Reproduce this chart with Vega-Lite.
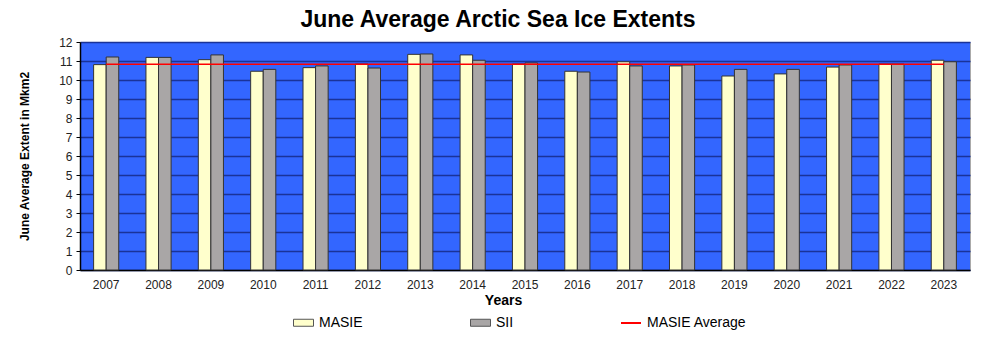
{
  "$schema": "https://vega.github.io/schema/vega-lite/v6.json",
  "autosize": "none",
  "width": 890,
  "height": 228,
  "padding": {"left": 80, "top": 42, "right": 29, "bottom": 81},
  "background": "white",
  "title": {"text": "June Average Arctic Sea Ice Extents", "fontSize": 23, "font": "Liberation Sans", "fontWeight": "bold", "color": "#000000", "anchor": "middle", "dx": -27, "offset": 4},
  "config": {
    "font": "Liberation Sans",
    "view": {"fill": "#3366FF", "stroke": "#aaaaaa", "strokeWidth": 1}
  },
  "data": {"values": [
    {"year": "2007", "MASIE": 10.81, "SII": 11.21, "avg": 10.83},
    {"year": "2008", "MASIE": 11.19, "SII": 11.19, "avg": 10.83},
    {"year": "2009", "MASIE": 11.07, "SII": 11.32, "avg": 10.83},
    {"year": "2010", "MASIE": 10.46, "SII": 10.56, "avg": 10.83},
    {"year": "2011", "MASIE": 10.65, "SII": 10.74, "avg": 10.83},
    {"year": "2012", "MASIE": 10.84, "SII": 10.63, "avg": 10.83},
    {"year": "2013", "MASIE": 11.35, "SII": 11.37, "avg": 10.83},
    {"year": "2014", "MASIE": 11.32, "SII": 11.04, "avg": 10.83},
    {"year": "2015", "MASIE": 10.84, "SII": 10.9, "avg": 10.83},
    {"year": "2016", "MASIE": 10.46, "SII": 10.42, "avg": 10.83},
    {"year": "2017", "MASIE": 10.96, "SII": 10.74, "avg": 10.83},
    {"year": "2018", "MASIE": 10.74, "SII": 10.79, "avg": 10.83},
    {"year": "2019", "MASIE": 10.21, "SII": 10.56, "avg": 10.83},
    {"year": "2020", "MASIE": 10.32, "SII": 10.56, "avg": 10.83},
    {"year": "2021", "MASIE": 10.68, "SII": 10.79, "avg": 10.83},
    {"year": "2022", "MASIE": 10.84, "SII": 10.84, "avg": 10.83},
    {"year": "2023", "MASIE": 11.04, "SII": 10.96, "avg": 10.83}
  ]},
  "layer": [
    {
      "transform": [{"fold": ["MASIE", "SII"], "as": ["series", "value"]}],
      "mark": {"type": "bar", "stroke": "#333333", "strokeWidth": 1},
      "encoding": {
        "x": {
          "field": "year", "type": "ordinal",
          "scale": {"paddingInner": 0.52, "paddingOuter": 0.26},
          "axis": {"labelAngle": 0, "ticks": false, "domainColor": "#000000", "domainWidth": 1.5, "grid": false, "labelFontSize": 12, "labelColor": "#222222", "labelPadding": 9, "title": "Years", "titleFontSize": 14, "titleFontWeight": "bold", "titleColor": "#000000", "titlePadding": 3, "titleX": 423}
        },
        "xOffset": {"field": "series", "sort": ["MASIE", "SII"]},
        "y": {
          "field": "value", "type": "quantitative",
          "scale": {"domain": [0, 12], "nice": false},
          "axis": {"values": [0,1,2,3,4,5,6,7,8,9,10,11,12], "labelOverlap": false, "grid": true, "gridColor": "#1A3399", "gridWidth": 1.5, "gridOpacity": 1, "domainColor": "#000000", "domainWidth": 1.5, "tickColor": "#000000", "tickSize": 4, "labelFontSize": 12, "labelColor": "#222222", "labelPadding": 4, "title": "June Average Extent in Mkm2", "titleFontSize": 12, "titleFontWeight": "bold", "titleColor": "#000000", "titlePadding": 27}
        },
        "color": {
          "field": "series", "type": "nominal",
          "scale": {"domain": ["MASIE", "SII"], "range": ["#FFFFCC", "#A9A6A6"]},
          "legend": {
            "orient": "none", "legendX": 213, "legendY": 270, "direction": "horizontal", "title": null, "columnPadding": 105,
            "symbolType": "M-1,-0.35H1V0.35H-1Z", "symbolSize": 400, "symbolStrokeColor": "#555555", "symbolStrokeWidth": 1, "symbolOpacity": 1,
            "labelFontSize": 14, "labelColor": "#000000", "labelOffset": 5
          }
        }
      }
    },
    {
      "mark": {"type": "line", "strokeWidth": 1.5},
      "encoding": {
        "x": {"field": "year", "type": "ordinal"},
        "y": {
          "field": "avg", "type": "quantitative",
          "axis": {"values": [0,1,2,3,4,5,6,7,8,9,10,11,12], "labelOverlap": false, "grid": true, "gridColor": "#1A3399", "gridWidth": 1.5, "gridOpacity": 1, "domainColor": "#000000", "domainWidth": 1.5, "tickColor": "#000000", "tickSize": 4, "labelFontSize": 12, "labelColor": "#222222", "labelPadding": 4, "title": "June Average Extent in Mkm2", "titleFontSize": 12, "titleFontWeight": "bold", "titleColor": "#000000", "titlePadding": 27}
        },
        "stroke": {
          "datum": "MASIE Average", "type": "nominal",
          "scale": {"domain": ["MASIE Average"], "range": ["#FF0000"]},
          "legend": {
            "orient": "none", "legendX": 540, "legendY": 270, "title": null,
            "symbolType": "stroke", "symbolSize": 400, "symbolStrokeWidth": 2,
            "labelFontSize": 14, "labelColor": "#000000", "labelOffset": 5
          }
        }
      }
    }
  ]
}
